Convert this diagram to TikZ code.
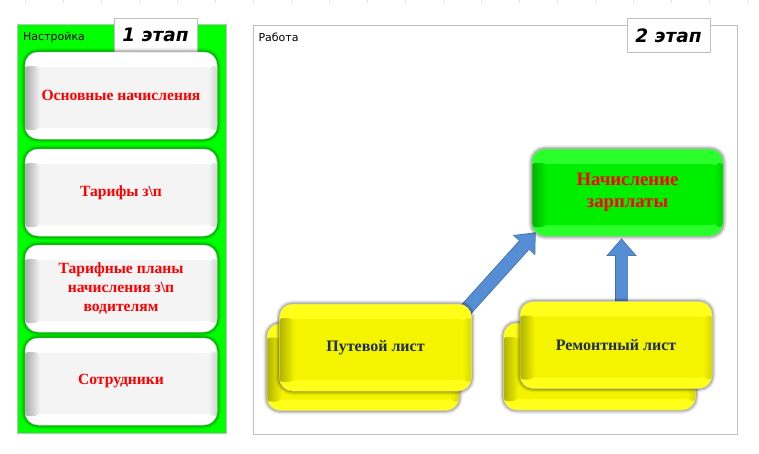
\documentclass[tikz,border=0pt]{standalone}
\usepackage{fontspec}
\setmainfont{Liberation Serif}
\newfontfamily\dvs{DejaVu Sans}
\usetikzlibrary{arrows.meta,calc}
\definecolor{frameg}{HTML}{BFBFBF}
\definecolor{panelg}{HTML}{00FF00}
\definecolor{txtred}{HTML}{FF0000}
\definecolor{txtnavy}{HTML}{1F2D4A}
\definecolor{arrfill}{HTML}{558ED5}
\definecolor{arredge}{HTML}{41719C}
\definecolor{wout}{HTML}{FFFFFF}
\definecolor{win}{HTML}{F4F4F4}
\definecolor{wedge}{HTML}{A0A0A0}
\definecolor{yout}{HTML}{FFFF1A}
\definecolor{yin}{HTML}{F4F400}
\definecolor{yedge}{HTML}{A8A800}
\definecolor{gout}{HTML}{2BFF2B}
\definecolor{gin}{HTML}{00EE00}
\definecolor{gedge}{HTML}{00A800}
\pgfdeclarelayer{bg}
\pgfdeclarelayer{mid}
\pgfsetlayers{bg,mid,main}
\tikzset{
  bev/.style n args={3}{
    rectangle, rounded corners=13pt, inner sep=0pt, fill=#1, draw=#3!45,
    line width=0.5pt, align=center,
    preaction={draw=black, draw opacity=0.07, line width=7.5pt},
    preaction={draw=black, draw opacity=0.11, line width=5pt},
    preaction={draw=black, draw opacity=0.16, line width=2.6pt},
    path picture={
      \fill[#2, rounded corners=6pt] ([shift={(8pt,-15pt)}]path picture bounding box.north west)
        rectangle ([shift={(-6pt,11pt)}]path picture bounding box.south east);
      \shade[left color=#3, right color=#2, rounded corners=6pt]
        ([shift={(-2pt,-14pt)}]path picture bounding box.north west)
        rectangle ([shift={(15pt,9pt)}]path picture bounding box.south west);
      \shade[left color=#2, right color=#3!45!#2, rounded corners=6pt]
        ([shift={(-9pt,-14pt)}]path picture bounding box.north east)
        rectangle ([shift={(2pt,9pt)}]path picture bounding box.south east);
    }
  },
  whitebtn/.style={bev={wout}{win}{wedge}, minimum width=192pt, minimum height=87pt,
    text=txtred, font=\bfseries\fontsize{15.6}{19}\selectfont},
  ybox/.style={bev={yout}{yin}{yedge}, minimum width=192pt, minimum height=87pt,
    text=txtnavy, font=\bfseries\fontsize{16}{20}\selectfont},
  gbox/.style={bev={gout}{gin}{gedge}, minimum width=191pt, minimum height=87pt,
    text=txtred, font=\bfseries\fontsize{18.8}{22}\selectfont},
  lbl/.style={anchor=west, inner sep=0pt, font=\dvs\fontsize{11}{13}\selectfont},
  stagebox/.style={fill=white, draw=frameg, line width=0.8pt, minimum width=83pt,
    minimum height=34pt, inner sep=0pt, font=\dvs\bfseries\itshape\fontsize{18.5}{20}\selectfont},
  arrout/.style={draw=arredge, line width=13.6pt, -{Triangle[width=29pt,length=17.5pt]}},
  arrin/.style={draw=arrfill, line width=12pt, -{Triangle[width=26.5pt,length=16pt]}, shorten >=1.1pt},
}
\begin{document}
\begin{tikzpicture}[x=1pt,y=-1pt]
\useasboundingbox (0,0) rectangle (759,453);
\begin{pgfonlayer}{bg}
\fill[white] (0,0) rectangle (759,453);
\foreach \k in {0,...,19}
  \draw[gray!22, line width=0.6pt] ({25+38.03*\k},0) -- ++(0,3);
% panels
\node[fill=panelg, draw=frameg, line width=0.8pt, minimum width=209pt, minimum height=409pt, inner sep=0pt] (pnl) at (121.5,228.5) {};
\node[fill=white, draw=frameg, line width=0.8pt, minimum width=484pt, minimum height=409pt, inner sep=0pt] (wrk) at (495,229.5) {};
\end{pgfonlayer}
\node[lbl] (lnast) at (23,37.5) {Настройка};
\node[lbl] (lrab) at (258.3,37.5) {Работа};
\node[stagebox] (st1) at (155.5,35) {1 этап};
\node[stagebox] (st2) at (668.5,35.5) {2 этап};

% left buttons
\node[whitebtn] (b1) at (121,95.5) {Основные начисления};
\node[whitebtn] (b2) at (121,192.5) {Тарифы з\textbackslash п};
\node[whitebtn] (b3) at (121,288.5) {Тарифные планы\\начисления з\textbackslash п\\водителям};
\node[whitebtn] (b4) at (121,381.5) {Сотрудники};

% right boxes
\node[gbox] (nach) at (627.5,192.5) {Начисление\\зарплаты};
\node[ybox] (putb) at (363,367) {};
\node[ybox] (put) at (375.5,347.5) {Путевой лист};
\node[ybox] (remb) at (599.5,366.5) {};
\node[ybox] (rem) at (616,345) {Ремонтный лист};

% arrows
\coordinate (t1) at ([shift={(4pt,4pt)}]nach.south west);
\coordinate (s1) at (452,325);
\coordinate (t2) at ([shift={(-6pt,-2pt)}]nach.south);
\coordinate (s2) at ([yshift=-10pt]rem.north -| t2);
\begin{pgfonlayer}{mid}
  \draw[arrout] (s1) -- (t1);
  \draw[arrin] (s1) -- (t1);
  \draw[arrout] (s2) -- (t2);
  \draw[arrin] (s2) -- (t2);
\end{pgfonlayer}
\end{tikzpicture}
\end{document}
